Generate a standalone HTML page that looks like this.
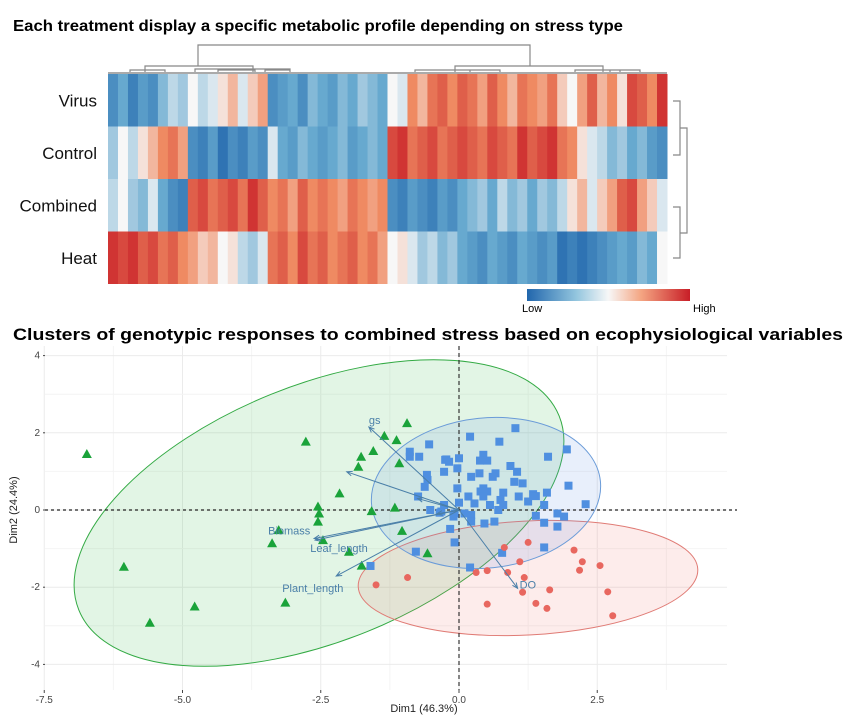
<!DOCTYPE html>
<html><head><meta charset="utf-8"><style>
html,body{margin:0;padding:0;background:#fff;}
svg{display:block;font-family:"Liberation Sans",sans-serif;}
</style></head><body>
<svg id="fig" width="850" height="720" viewBox="0 0 850 720">
<text x="13" y="31" font-size="16" font-weight="bold" textLength="610" lengthAdjust="spacingAndGlyphs">Each treatment display a specific metabolic profile depending on stress type</text>
<g id="heat"></g>
<g fill="none" stroke="#888" stroke-width="1.2">
<path d="M198 66V45H530V66"/><path d="M145 73V66H253V73"/><path d="M455 73V66H603V73"/>
<path d="M130 73V70H165V73M195 73V69H290V73M218 73V70H255V73M265 73V70H290V73M415 73V70H470V73M470 73V70H500V73M575 73V70H620V73M610 73V70H640V73"/>
<line x1="108" y1="73" x2="667" y2="73" stroke="#aaa" stroke-width="2"/>
</g>
<g fill="none" stroke="#888" stroke-width="1.2">
<path d="M673 101H680V155H673"/><path d="M673 207H680V258H673"/><path d="M680 128H687V233H680"/>
</g>
<defs><linearGradient id="cb" x1="0" x2="1"><stop offset="0" stop-color="#2166ac"/><stop offset="0.3" stop-color="#92c5de"/><stop offset="0.5" stop-color="#f7f7f7"/><stop offset="0.7" stop-color="#f4a582"/><stop offset="1" stop-color="#c81e27"/></linearGradient></defs>
<rect x="527" y="289" width="163" height="12" fill="url(#cb)"/>
<text x="522" y="305" font-size="11" dominant-baseline="hanging">Low</text>
<text x="693" y="305" font-size="11" dominant-baseline="hanging">High</text>

<text x="13" y="340" font-size="17" font-weight="bold" textLength="830" lengthAdjust="spacingAndGlyphs">Clusters of genotypic responses to combined stress based on ecophysiological variables</text>
<g id="pca"></g>
<text x="424" y="712" font-size="11" fill="#222" text-anchor="middle">Dim1 (46.3%)</text>
<text transform="translate(17,510) rotate(-90)" font-size="11" fill="#222" text-anchor="middle">Dim2 (24.4%)</text>
</svg>
<script>
// ---------- heatmap data ----------
const rowNames = ["Virus","Control","Combined","Heat"];
const virusVals = [-.7,-.5,-.8,-.6,-.7,-.4,-.2,-.3,0,-.2,-.1,.1,.3,-.1,.2,.4,-.7,-.6,-.5,-.7,-.4,-.5,-.6,-.4,-.5,-.3,-.4,-.5,0,-.1,.5,.3,.6,.7,.5,.7,.6,.4,.7,.5,.3,.6,.5,.4,.6,.2,0,.4,.7,.3,.5,.1,.8,.7,.5,.9];
const controlVals = [-.3,0,-.2,.1,.3,.5,.6,.4,-.7,-.8,-.6,-.9,-.7,-.8,-.6,-.7,-.1,-.5,-.6,-.4,-.5,-.6,-.5,-.4,-.6,-.5,-.4,-.5,.8,.9,.6,.7,.8,.6,.7,.8,.7,.6,.8,.7,.6,.9,.7,.8,.9,.6,.5,.1,-.1,-.2,-.4,-.3,-.5,-.4,-.6,-.7];
const combinedVals = [-.2,0,-.3,-.4,-.1,-.5,-.7,-.8,.7,.8,.6,.7,.8,.6,.9,.7,.5,.6,.4,.7,.5,.6,.5,.4,.6,.5,.4,.5,-.7,-.8,-.6,-.7,-.8,-.6,-.7,-.5,-.4,-.3,-.5,-.2,-.4,-.3,-.5,-.3,-.4,-.2,.1,.3,-.1,.2,.4,.7,.8,.4,.2,-.1];
const heatVals = [.9,.8,.9,.7,.8,.6,.7,.5,.4,.2,.3,0,.1,-.2,-.3,-.1,.6,.7,.5,.8,.6,.7,.5,.6,.7,.5,.6,.4,0,.1,-.1,-.3,-.2,-.4,-.3,-.5,-.6,-.7,-.5,-.6,-.7,-.5,-.6,-.7,-.6,-.9,-.8,-.9,-.8,-.7,-.6,-.5,-.6,-.4,-.5,0];
const heatRows = [virusVals,controlVals,combinedVals,heatVals];

// ---------- PCA data ----------
const triX = [-6.73,-6.06,-5.59,-4.78,-3.14,-3.38,-3.26,-2.77,-2.55,-2.53,-2.55,-2.46,-2.16,-1.99,-1.82,-1.77,-1.76,-1.55,-1.58,-1.35,-1.13,-1.08,-1.16,-1.03,-0.94,-0.57];
const triY = [1.45,-1.47,-2.92,-2.5,-2.4,-0.86,-0.52,1.77,0.09,-0.09,-0.3,-0.78,0.43,-1.08,1.12,1.38,-1.44,1.53,-0.03,1.92,1.81,1.21,0.06,-0.54,2.25,-1.12];
const sqImgX = [952,868,922,1047,793,757,775,757,825,848,893,822,830,1012,887,900,943,845,820,886,915,955,789,870,910,790,950,965,785,1050,893,888,845,900,930,985,1010,773,865,893,958,975,990,925,877,1082,820,848,905,930,1005,795,815,858,920,840,870,990,1030,1042,838,870,895,913,1005,1030,832,840,1005,928,768,868,685,812];
const sqImgY = [265,290,305,328,313,335,350,350,358,355,345,360,365,350,362,362,378,385,395,400,400,395,405,410,410,420,425,430,440,437,445,455,445,455,458,462,458,470,470,470,470,485,468,480,490,493,495,488,495,495,495,510,515,520,510,520,525,527,520,530,530,545,550,545,548,560,567,607,622,638,635,683,678,518];
const sqX = sqImgX.map(v => +((v-848)/102).toFixed(2));
const sqY = sqImgY.map(v => +((510-v)/115.75).toFixed(2));
const cirImgX = [932,975,1060,1075,1070,1108,1122,1132,960,938,880,900,968,965,1015,990,1010,900,753,695];
const cirImgY = [622,607,630,665,690,677,755,827,665,697,697,692,712,757,750,790,805,793,712,735];
const cirX = cirImgX.map(v => +((v-848)/102).toFixed(2));
const cirY = cirImgY.map(v => +((510-v)/115.75).toFixed(2));
const varNames = ["gs","","Biomass","Leaf_length","Plant_length","DO","",""];
const varX = [-1.63,-2.03,-2.62,-2.6,-2.22,1.06,-0.75,-0.4];
const varY = [2.15,0.99,-0.74,-0.78,-1.71,-2.03,0.3,-0.1];
const xTicks = [-7.5,-5.0,-2.5,0.0,2.5];
const yTicks = [4,2,0,-2,-4];

const NS="http://www.w3.org/2000/svg";
function mk(tag,attrs,parent){const e=document.createElementNS(NS,tag);for(const k in attrs)e.setAttribute(k,attrs[k]);parent.appendChild(e);return e;}

// heatmap
const hx0=108,hx1=667,hy0=74,hy1=284;
function colX(i,n){return hx0+(hx1-hx0)*i/n;}
function rowY(r){return hy0+(hy1-hy0)*r/rowNames.length;}
function lerp(a,b,t){return a.map((v,i)=>Math.round(v+(b[i]-v)*t));}
function colorOf(v){
  const stops=[[-1,[33,102,172]],[-0.5,[103,169,207]],[0,[247,247,247]],[0.5,[239,138,98]],[1,[200,30,39]]];
  for(let i=0;i<stops.length-1;i++){if(v<=stops[i+1][0]){const t=(v-stops[i][0])/(stops[i+1][0]-stops[i][0]);const c=lerp(stops[i][1],stops[i+1][1],t);return `rgb(${c})`;}}
  return "rgb(200,30,39)";
}
const heat=document.getElementById('heat');
heatRows.forEach((vals,r)=>{
  const n=vals.length;
  vals.forEach((v,i)=>{
    const c=mk('rect',{x:colX(i,n),y:rowY(r),width:(hx1-hx0)/n+0.5,height:(hy1-hy0)/rowNames.length,fill:colorOf(v)},heat);
    
    
  });
  const t=mk('text',{x:97,y:rowY(r)+(hy1-hy0)/8+6,'font-size':17,'text-anchor':'end',fill:'#111'},heat);
  t.textContent=rowNames[r];
  
  
});

// pca
const pca=document.getElementById('pca');
const X0=459,XS=55.3,Y0=510,YS=38.6;
function sx(v){return X0+v*XS;}
function sy(v){return Y0-v*YS;}
const pl=45,pr=727,pt=346,pb=690;
for(let v=-7.5;v<=4.5;v+=1.25){const l=mk('line',{x1:sx(v),x2:sx(v),y1:pt,y2:pb,stroke:(Math.abs(v/2.5-Math.round(v/2.5))<1e-6)?'#ebebeb':'#f4f4f4','stroke-width':1},pca);}
for(let v=-4;v<=4;v+=1){const l=mk('line',{x1:pl,x2:pr,y1:sy(v),y2:sy(v),stroke:(v%2===0)?'#ebebeb':'#f4f4f4','stroke-width':1},pca);}
xTicks.forEach(v=>{const t=mk('text',{x:sx(v),y:pb+13,'font-size':10,fill:'#444','text-anchor':'middle'},pca);t.textContent=v.toFixed(1);
 const k=mk('line',{x1:sx(v),x2:sx(v),y1:pb,y2:pb+3,stroke:'#444'},pca);});
yTicks.forEach(v=>{const t=mk('text',{x:pl-5,y:sy(v)+3,'font-size':10,fill:'#444','text-anchor':'end'},pca);t.textContent=v;
 const k=mk('line',{x1:pl-2,x2:pl,y1:sy(v),y2:sy(v),stroke:'#444'},pca);});
// ellipses
let e=mk('ellipse',{cx:319,cy:513,rx:259,ry:128,transform:'rotate(-22 319 513)',fill:'rgba(60,190,80,0.15)',stroke:'#33aa44','stroke-width':1},pca);

e=mk('ellipse',{cx:528,cy:578,rx:170,ry:57,transform:'rotate(-3 528 578)',fill:'rgba(240,110,100,0.13)',stroke:'#e07b75','stroke-width':1},pca);

e=mk('ellipse',{cx:486,cy:493,rx:115,ry:75,transform:'rotate(-6 486 493)',fill:'rgba(100,150,230,0.15)',stroke:'#6a9bd8','stroke-width':1},pca);

// zero lines
let z=mk('line',{x1:pl,x2:pr+10,y1:sy(0),y2:sy(0),stroke:'#222','stroke-dasharray':'3,3','stroke-width':1.3},pca);
z=mk('line',{x1:sx(0),x2:sx(0),y1:pt,y2:pb,stroke:'#222','stroke-dasharray':'4,3','stroke-width':1.1},pca);
// points
sqX.forEach((v,i)=>{const r=mk('rect',{x:sx(v)-4,y:sy(sqY[i])-4,width:8,height:8,fill:'#4f8fe0'},pca);});
cirX.forEach((v,i)=>{const c=mk('circle',{cx:sx(v),cy:sy(cirY[i]),r:3.5,fill:'#e8675f'},pca);});
triX.forEach((v,i)=>{const x=sx(v),y=sy(triY[i]);const p=mk('polygon',{points:`${x},${y-5} ${x-5},${y+4} ${x+5},${y+4}`,fill:'#1aa33a'},pca);});
// arrows
varX.forEach((v,i)=>{
  const x2=sx(v),y2=sy(varY[i]);const ang=Math.atan2(y2-Y0,x2-X0);
  const a=mk('path',{d:`M${X0},${Y0}L${x2},${y2}M${x2-6*Math.cos(ang-0.4)},${y2-6*Math.sin(ang-0.4)}L${x2},${y2}L${x2-6*Math.cos(ang+0.4)},${y2-6*Math.sin(ang+0.4)}`,stroke:'#4a7fa8',fill:'none','stroke-width':1},pca);
  
  if(varNames[i]){const t=mk('text',{x:x2+(i===0?0:(i===5?2:(i===2?-46:(i===3?-5:-54)))),y:y2+(i===0?-3:(i===5?0:(i===2?-4:(i===3?12:16)))),'font-size':11,fill:'#4a7fa8'},pca);t.textContent=varNames[i];}
});
</script>
</body></html>
